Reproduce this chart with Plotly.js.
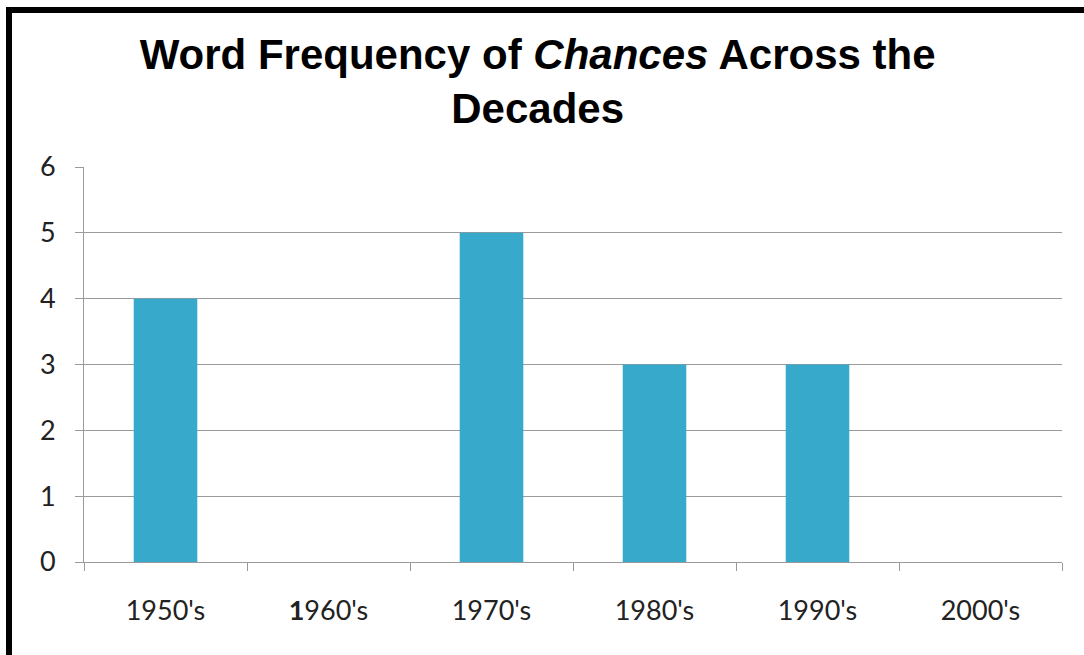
<!DOCTYPE html>
<html><head><meta charset="utf-8">
<script src="https://cdn.plot.ly/plotly-3.0.1.min.js"></script>
<style>
html,body{margin:0;padding:0;background:#fff;}
#chart{position:absolute;left:0;top:0;width:1084px;height:655px;}
#frame{position:absolute;left:6px;top:7px;width:1100px;height:700px;border-left:6px solid #000;border-top:6px solid #000;pointer-events:none;}
</style></head>
<body>
<div id="chart"></div>
<div id="frame"></div>
<script>
const categories = ["1950's", "1960's", "1970's", "1980's", "1990's", "2000's"];
const tickLabels = ["1950's", "<b>1</b>960's", "1970's", "1980's", "1990's", "2000's"];
const counts = [4, 0, 5, 3, 3, 0];
const yTicks = [0, 1, 2, 3, 4, 5, 6];

const trace = {
  type: 'bar',
  x: categories,
  y: counts,
  width: 0.39,
  marker: {color: '#37A9CA', line: {width: 0}},
  hoverinfo: 'x+y'
};

const layout = {
  width: 1084, height: 655,
  margin: {l: 84, r: 22, t: 167, b: 93},
  paper_bgcolor: '#fff', plot_bgcolor: '#fff',
  showlegend: false,
  title: {
    text: "<b>Word Frequency of <i>Chances</i> Across the<br>Decades</b>",
    font: {family: 'Liberation Sans, Arial, sans-serif', size: 42, color: '#000'},
    xref: 'container', x: 0.496, xanchor: 'center',
    yref: 'container', y: 0.895, yanchor: 'top'
  },
  xaxis: {
    type: 'category',
    tickvals: categories, ticktext: tickLabels,
    tickson: 'boundaries',
    ticks: 'outside', ticklen: 8, tickcolor: '#9a9a9a', tickwidth: 1,
    showline: true, linecolor: '#9a9a9a', linewidth: 1,
    showgrid: false, zeroline: false,
    tickfont: {family: 'Lato, Open Sans, sans-serif', size: 27, color: '#222'},
    ticklabelstandoff: 25
  },
  yaxis: {
    range: [0, 6], tickvals: yTicks,
    ticks: 'outside', ticklen: 8, tickcolor: '#9a9a9a', tickwidth: 1,
    showline: true, linecolor: '#9a9a9a', linewidth: 1,
    showgrid: true, gridcolor: '#9a9a9a', gridwidth: 1,
    zeroline: false,
    tickfont: {family: 'Lato, Open Sans, sans-serif', size: 27, color: '#222'},
    ticklabelstandoff: 14
  },
  bargap: 0.61
};

Plotly.newPlot('chart', [trace], layout, {displayModeBar: false, staticPlot: true});
</script>
</body></html>
